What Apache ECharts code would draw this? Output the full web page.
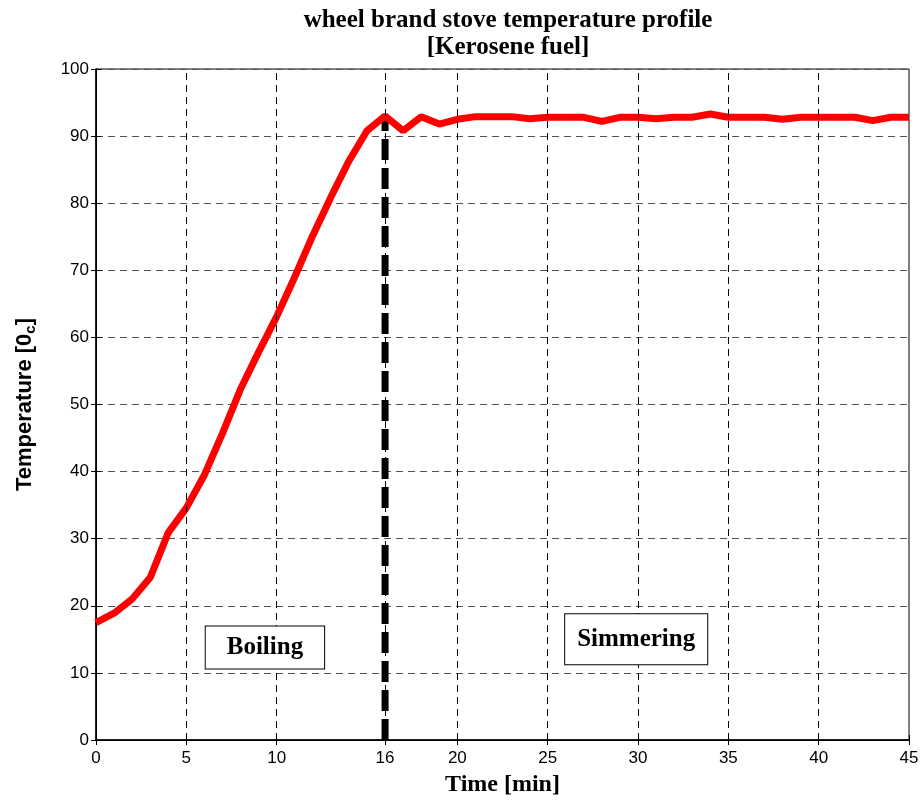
<!DOCTYPE html>
<html>
<head>
<meta charset="utf-8">
<script src="https://cdn.jsdelivr.net/npm/echarts@6/dist/echarts.min.js"></script>
<style>html,body{margin:0;padding:0;background:#fff}#c{width:923px;height:802px}</style>
</head>
<body>
<div id="c"></div>
<script>
var times = [0,1,2,3,4,5,6,7,8,9,10,11,12,13,14,15,16,17,18,19,20,21,22,23,24,25,26,27,28,29,30,31,32,33,34,35,36,37,38,39,40,41,42,43,44,45];
var temps = [17.5,18.9,21.0,24.2,30.9,34.6,39.5,45.7,52.3,57.8,63.1,69.0,75.2,80.9,86.3,90.8,93.0,90.8,92.9,91.8,92.5,92.9,92.9,92.9,92.6,92.8,92.8,92.8,92.2,92.8,92.8,92.6,92.8,92.8,93.3,92.8,92.8,92.8,92.5,92.8,92.8,92.8,92.8,92.3,92.8,92.8];
var xTicks = [0,5,10,16,20,25,30,35,40,45];
var yTicks = [0,10,20,30,40,50,60,70,80,90,100];
var boilingLine = [[16,0],[16,92.8]];
var boilingNote = {name:'Boiling', coord:[9.35,13.8]};
var simmerNote = {name:'Simmering', coord:[29.9,15.0]};

var chart = echarts.init(document.getElementById('c'));
var serif = '"Liberation Serif","Times New Roman",serif';
var sans = '"Liberation Sans",Arial,sans-serif';
var gridX = xTicks.slice(1, xTicks.length - 1);
var noteLabel = function (pad) {
  return {
    show: true, position: 'inside', formatter: '{b}',
    fontFamily: serif, fontWeight: 'bold', fontSize: 25, lineHeight: 25, color: '#000',
    backgroundColor: '#fff', borderColor: '#000', borderWidth: 1, padding: pad
  };
};

chart.setOption({
  animation: false,
  title: {
    text: 'wheel brand stove temperature profile\n[Kerosene fuel]',
    left: 503, textAlign: 'center', top: 2,
    textStyle: {fontFamily: serif, fontWeight: 'bold', fontSize: 25, color: '#000', lineHeight: 27}
  },
  grid: {left: 96, right: 14, top: 69, bottom: 59, show: true, borderColor: '#000', borderWidth: 1},
  xAxis: [{
    type: 'value', min: 0, max: 45, interval: 5,
    name: 'Time [min]', nameLocation: 'middle', nameGap: 33,
    nameTextStyle: {fontFamily: serif, fontWeight: 'bold', fontSize: 24, color: '#000'},
    axisLine: {lineStyle: {color: '#000', width: 1.5}},
    axisTick: {inside: true, length: 5, customValues: xTicks, lineStyle: {color: '#000'}},
    axisLabel: {customValues: xTicks, fontFamily: sans, fontSize: 17, color: '#000', margin: 10},
    splitLine: {show: false}
  }, {
    type: 'value', min: 0, max: 45, position: 'top',
    axisLine: {show: true, lineStyle: {color: '#000'}},
    axisTick: {inside: true, length: 5, customValues: xTicks, lineStyle: {color: '#000'}},
    axisLabel: {show: false}, splitLine: {show: false}
  }],
  yAxis: [{
    type: 'value', min: 0, max: 100, interval: 10,
    name: 'Temperature [0{sub|c}]', nameLocation: 'middle', nameGap: 58, nameRotate: 90,
    nameTextStyle: {fontFamily: sans, fontWeight: 'bold', fontSize: 22, color: '#000',
      rich: {sub: {fontFamily: sans, fontWeight: 'bold', fontSize: 15, color: '#000', verticalAlign: 'bottom', padding: [12,0,0,0]}}},
    axisLine: {show: true, lineStyle: {color: '#000', width: 1.5}},
    axisTick: {show: true, inside: true, length: 5, lineStyle: {color: '#000'}},
    axisLabel: {fontFamily: sans, fontSize: 17, color: '#000', margin: 7},
    splitLine: {show: true, lineStyle: {color: '#555', type: [7,5], width: 1}}
  }, {
    type: 'value', min: 0, max: 100, interval: 10, position: 'right',
    axisLine: {show: true, lineStyle: {color: '#000'}},
    axisTick: {show: true, inside: true, length: 5, lineStyle: {color: '#000'}},
    axisLabel: {show: false}, splitLine: {show: false}
  }],
  series: [{
    type: 'line', data: [], silent: true,
    markLine: {
      silent: true, symbol: 'none', label: {show: false},
      lineStyle: {color: '#000', type: [7,5], width: 1},
      data: gridX.map(function (v) { return {xAxis: v}; })
    }
  }, {
    type: 'line', data: boilingLine, showSymbol: false, symbol: 'none', silent: true,
    lineStyle: {color: '#000', width: 7, type: [21,8]}, z: 3
  }, {
    type: 'line',
    data: times.map(function (t, i) { return [t, temps[i]]; }),
    showSymbol: false, symbol: 'none', silent: true,
    lineStyle: {color: '#ff0000', width: 7}, z: 4,
    markPoint: {
      symbol: 'rect', symbolSize: 0, silent: true,
      data: [
        Object.assign({}, boilingNote, {label: noteLabel([8,21,9,21])}),
        Object.assign({}, simmerNote, {label: noteLabel([9,12,16,12])})
      ]
    }
  }]
});
</script>
</body>
</html>
